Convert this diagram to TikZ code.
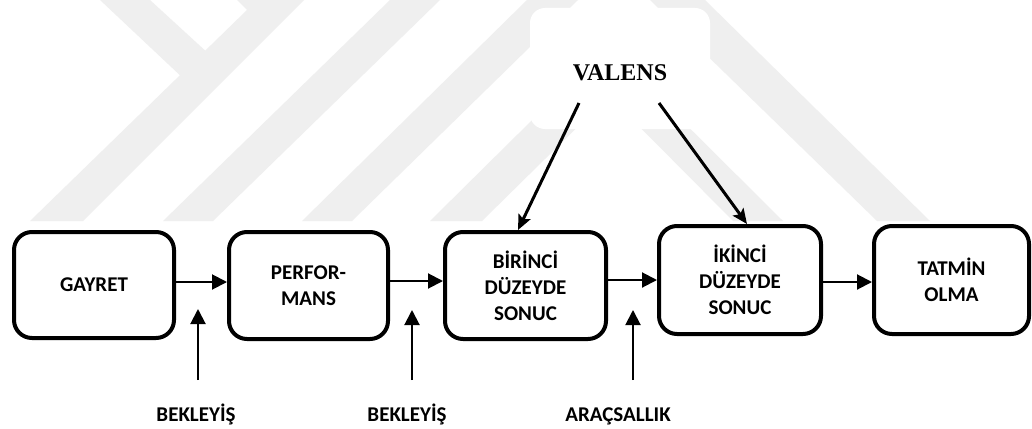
\documentclass[tikz,border=0pt]{standalone}
\usepackage{fontspec}
\setmainfont{Carlito}
\newfontfamily\valensfont{Liberation Serif}
\usetikzlibrary{arrows.meta,calc}
\definecolor{wmgray}{RGB}{239,239,239}

\begin{document}
\begin{tikzpicture}[x=1pt,y=-1pt,
  stage/.style={draw, line width=4pt, rounded corners=18pt, align=center,
    inner sep=0pt, font=\fontsize{21}{26}\selectfont\bfseries},
  flow/.style={line width=2pt, -{Triangle[length=15pt,width=15pt]}},
  pull/.style={line width=3pt, -{Stealth[length=15pt,width=13pt,inset=3pt]}},
  cue/.style={anchor=base, inner sep=0pt, font=\fontsize{21}{26}\selectfont\bfseries},
  band/.style={fill=wmgray, draw=none}]

\useasboundingbox (0,0) rectangle (1032,428);
\fill[white] (0,0) rectangle (1032,428);

% faint background bands
\begin{scope}
  \clip (0,0) rectangle (1032,221);
  \fill[band] (30,221) -- (83,221) -- (304,0) -- (237,0) -- (247,10) -- cycle;
  \fill[band] (100,0) -- (150,0) -- (210,55) -- (185,80) -- cycle;
  \fill[band] (163,221) -- (213,221) -- (440,0) -- (390,0) -- cycle;
  \fill[band] (302,221) -- (352,221) -- (578,0) -- (527,0) -- cycle;
  \fill[band] (430,221) -- (482,221) -- (609,96) -- (733,221) -- (783,221) -- (607,46) -- cycle;
  \fill[band] (650,0) -- (705,0) -- (930,221) -- (877,221) -- cycle;
\end{scope}

% top driver
\node[fill=white, rounded corners=15pt, minimum width=180pt, minimum height=121pt,
      inner sep=0pt, text height=23pt, text depth=0pt,
      font=\valensfont\fontsize{24}{28}\selectfont\bfseries] (valens) at (620,68.5) {VALENS};

% main chain
\node[stage, minimum width=160pt, minimum height=106pt] (gayret)  at (94,285)    {GAYRET};
\node[stage, minimum width=159pt, minimum height=107pt] (perf)    at (308.5,285.5) {PERFOR-\\MANS};
\node[stage, minimum width=161pt, minimum height=107pt] (birinci) at (525.5,285.5) {BİRİNCİ\\DÜZEYDE\\SONUC};
\node[stage, minimum width=162pt, minimum height=108pt] (ikinci)  at (740,280)   {İKİNCİ\\DÜZEYDE\\SONUC};
\node[stage, minimum width=155pt, minimum height=108pt] (tatmin)  at (951.5,280) {TATMİN\\OLMA};

\draw[flow] (gayret.east |- 0,282)  -- (perf.west |- 0,282);
\draw[flow] (perf.east |- 0,281)    -- (birinci.west |- 0,281);
\draw[flow] (birinci.east |- 0,280) -- (ikinci.west |- 0,280);
\draw[flow] (ikinci.east |- 0,282)  -- (tatmin.west |- 0,282);

% valence arrows
\coordinate (v1) at (579,103);
\coordinate (v2) at (659,103);
\draw[pull] (v1) -- ($(birinci.north)+(-7.5,0)$);
\draw[pull] (v2) -- ($(ikinci.north)+(7,0)$);

% moderating factors from below
\coordinate (e1s) at (198,380); \coordinate (e1t) at (198,309);
\coordinate (e2s) at (412,380); \coordinate (e2t) at (412,310);
\coordinate (e3s) at (633,380); \coordinate (e3t) at (633,310);
\draw[flow] (e1s) -- (e1t);
\draw[flow] (e2s) -- (e2t);
\draw[flow] (e3s) -- (e3t);

\node[cue] (bek1) at (196,421.5) {BEKLEYİŞ};
\node[cue] (bek2) at (407,421.5) {BEKLEYİŞ};
\node[cue] (arac) at (618,421.5) {ARAÇSALLIK};
\end{tikzpicture}
\end{document}
